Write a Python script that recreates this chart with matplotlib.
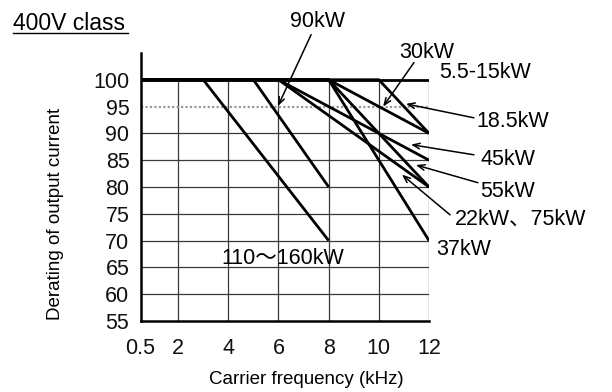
import matplotlib
matplotlib.use("Agg")
import matplotlib.pyplot as plt
from matplotlib.lines import Line2D

plt.rcParams['font.family'] = ['Liberation Sans', 'Noto Sans CJK JP', 'DejaVu Sans']

# derating curves: x = carrier frequency (kHz), y = output current (%)
kw5_15_x = [0.5, 12]
kw5_15_y = [100, 100]
kw110_160_x = [0.5, 3, 8]
kw110_160_y = [100, 100, 70]
kw90_x = [0.5, 5, 8]
kw90_y = [100, 100, 80]
kw45_x = [0.5, 6, 12]
kw45_y = [100, 100, 85]
kw55_x = [0.5, 6, 12]
kw55_y = [100, 100, 80]
kw18_5_x = [0.5, 8, 12]
kw18_5_y = [100, 100, 90]
kw22_75_x = [0.5, 8, 12]
kw22_75_y = [100, 100, 80]
kw37_x = [0.5, 8, 12]
kw37_y = [100, 100, 70]
kw30_x = [0.5, 10, 12]
kw30_y = [100, 100, 90]

x_ticks = [0.5, 2, 4, 6, 8, 10, 12]
y_ticks = [55, 60, 65, 70, 75, 80, 85, 90, 95, 100]

fig = plt.figure(figsize=(6.12, 3.92), dpi=100)
ax = fig.add_axes([0.2296, 0.181, 0.4714, 0.684])

# grid (only inside 0.5-12 / 55-100)
ax.vlines([2, 4, 6, 8, 10, 12], 55, 100, colors='#3a3a3a', lw=0.9, zorder=1)
ax.hlines([60, 65, 70, 75, 80, 85, 90], 0.5, 12, colors='#3a3a3a', lw=0.9, zorder=1)
ax.hlines([95], 0.5, 12, colors='#999999', lw=1.6, linestyles=(0, (1, 1)), zorder=1)

curves = [
    (kw110_160_x, kw110_160_y), (kw90_x, kw90_y), (kw45_x, kw45_y),
    (kw55_x, kw55_y), (kw18_5_x, kw18_5_y), (kw22_75_x, kw22_75_y),
    (kw37_x, kw37_y), (kw30_x, kw30_y), (kw5_15_x, kw5_15_y),
]
for xs, ys in curves:
    ax.plot(xs, ys, color='black', lw=2.0, solid_capstyle='butt', zorder=3)

ax.set_xlim(0.5, 12)
ax.set_ylim(55, 105)
ax.set_xticks(x_ticks)
ax.set_xticklabels(['0.5', '2', '4', '6', '8', '10', '12'])
ax.set_yticks(y_ticks)
ax.tick_params(length=0, labelsize=15.5, colors='#111111')
ax.tick_params(axis='x', pad=12)
ax.tick_params(axis='y', pad=8)
for s in ['top', 'right']:
    ax.spines[s].set_visible(False)
for s in ['left', 'bottom']:
    ax.spines[s].set_linewidth(1.8)

# labels and arrows
fs = 15.5
arrow = dict(arrowstyle='->,head_length=0.5,head_width=0.2', color='black', lw=1.1,
             shrinkA=0, shrinkB=0)

ax.text(7.57, 110.8, '90kW', fontsize=fs, ha='center', va='center', clip_on=False)
ax.annotate('', xy=(5.98, 95.1), xytext=(7.3, 108.4), arrowprops=arrow, annotation_clip=False)

ax.text(11.92, 105.0, '30kW', fontsize=fs, ha='center', va='center', clip_on=False)
ax.annotate('', xy=(10.17, 95.0), xytext=(11.4, 103.2), arrowprops=arrow, annotation_clip=False)

ax.text(12.4, 101.4, '5.5-15kW', fontsize=fs, ha='left', va='center', clip_on=False)

ax.text(13.87, 92.3, '18.5kW', fontsize=fs, ha='left', va='center', clip_on=False)
ax.annotate('', xy=(11.08, 95.5), xytext=(13.79, 92.9), arrowprops=arrow, annotation_clip=False)

ax.text(14.07, 85.1, '45kW', fontsize=fs, ha='left', va='center', clip_on=False)
ax.annotate('', xy=(11.28, 87.9), xytext=(13.79, 86.0), arrowprops=arrow, annotation_clip=False)

ax.text(14.03, 79.1, '55kW', fontsize=fs, ha='left', va='center', clip_on=False)
ax.annotate('', xy=(11.48, 84.1), xytext=(13.95, 80.8), arrowprops=arrow, annotation_clip=False)

ax.text(13.03, 74.0, '22kW、75kW', fontsize=fs, ha='left', va='center', clip_on=False)
ax.annotate('', xy=(10.92, 82.3), xytext=(12.84, 74.8), arrowprops=arrow, annotation_clip=False)

ax.text(12.29, 68.3, '37kW', fontsize=fs, ha='left', va='center', clip_on=False)

ax.text(6.18, 66.6, '110～160kW', fontsize=fs, ha='center', va='center', zorder=2)

# axis titles
fig.text(0.5, 0.033, 'Carrier frequency (kHz)', fontsize=13.5, ha='center', va='center')
fig.text(0.09, 0.453, 'Derating of output current', fontsize=13.5, rotation=90,
         ha='center', va='center')

# underlined title
fig.text(13 / 612, 1 - 23 / 392, '400V class', fontsize=16.5, ha='left', va='center')
fig.add_artist(Line2D([13 / 612, 128 / 612], [1 - 33 / 392, 1 - 33 / 392],
                      color='black', lw=1.0))

fig.savefig('out.png', dpi=100)
